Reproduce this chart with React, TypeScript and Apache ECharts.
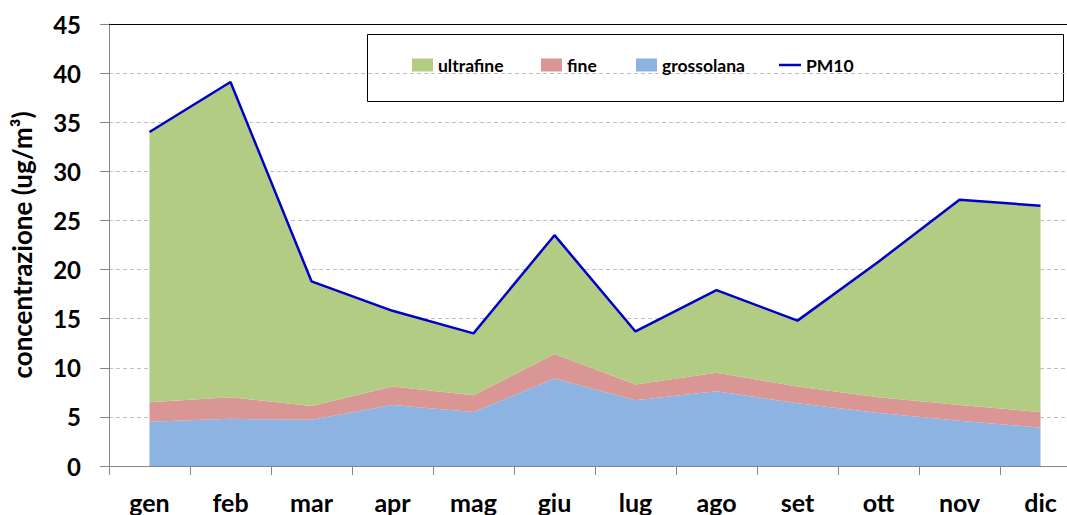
import React, { useEffect, useRef } from "react";
import * as echarts from "echarts";

const months = ["gen", "feb", "mar", "apr", "mag", "giu", "lug", "ago", "set", "ott", "nov", "dic"];
const pm10 = [34.0, 39.1, 18.8, 15.8, 13.5, 23.5, 13.7, 17.9, 14.8, 20.8, 27.1, 26.5];
const grossolana = [4.5, 4.8, 4.7, 6.2, 5.5, 8.9, 6.7, 7.6, 6.4, 5.4, 4.6, 3.9];
const fine = [2.0, 2.2, 1.4, 1.9, 1.7, 2.5, 1.6, 1.9, 1.7, 1.6, 1.6, 1.6];
const ultrafine = [27.5, 32.1, 12.7, 7.7, 6.3, 12.1, 5.4, 8.4, 6.7, 13.8, 20.9, 21.0];
const yTicks = { min: 0, max: 45, interval: 5 };

const FONT = "Lato";

export default function App() {
  const ref = useRef<HTMLDivElement>(null);
  useEffect(() => {
    const chart = echarts.init(ref.current!, null, { renderer: "svg" });
    const legendText = { fontFamily: FONT, fontWeight: "bold", fontSize: 17.5, color: "#000" };
    const mkLegend = (name: string, left: number, icon: string) => ({
      data: [{ name, icon }],
      left,
      top: 56,
      padding: 0,
      itemWidth: 21,
      itemHeight: 13,
      textStyle: legendText,
      selectedMode: false,
    });
    chart.setOption({
      animation: false,
      backgroundColor: "#fff",
      legend: [
        mkLegend("ultrafine", 412, "rect"),
        mkLegend("fine", 541, "rect"),
        mkLegend("grossolana", 636, "rect"),
        { ...mkLegend("PM10", 779, "path://M0,0 L22,0 L22,2.5 L0,2.5 Z"), itemWidth: 22 },
      ],
      graphic: [
        {
          type: "rect",
          left: 367,
          top: 34,
          shape: { width: 696, height: 67 },
          style: { fill: "#fff", stroke: "#000", lineWidth: 1 },
          z: -1,
          silent: true,
        },
      ],
      grid: { left: 109, top: 24, right: 19, bottom: 49 },
      xAxis: [
        {
          type: "category",
          data: months,
          boundaryGap: true,
          axisLine: { lineStyle: { color: "#868686", width: 1 } },
          axisTick: { show: true, length: 9, lineStyle: { color: "#868686" } },
          axisLabel: { fontFamily: FONT, fontWeight: "bold", fontSize: 25, color: "#000", margin: 23 },
          splitLine: { show: false },
        },
        {
          type: "category",
          data: months,
          position: "top",
          axisLine: { lineStyle: { color: "#000", width: 1 } },
          axisTick: { show: false },
          axisLabel: { show: false },
        },
      ],
      yAxis: {
        type: "value",
        min: yTicks.min,
        max: yTicks.max,
        interval: yTicks.interval,
        name: "concentrazione (ug/m³)",
        nameLocation: "middle",
        nameGap: 74,
        nameTextStyle: { fontFamily: FONT, fontWeight: "bold", fontSize: 26, color: "#000" },
        axisLine: { show: true, lineStyle: { color: "#868686", width: 1 } },
        axisTick: { show: true, length: 9, lineStyle: { color: "#868686" } },
        axisLabel: { fontFamily: FONT, fontWeight: "bold", fontSize: 24, color: "#000", margin: 28 },
        splitLine: { show: true, lineStyle: { color: "#c0c0c0", type: [4, 3], width: 1 } },
      },
      series: [
        {
          name: "grossolana",
          type: "line",
          stack: "tot",
          data: grossolana,
          symbol: "none",
          color: "#8db3e2",
          lineStyle: { width: 0 },
          areaStyle: { color: "#8db3e2", opacity: 1 },
        },
        {
          name: "fine",
          type: "line",
          stack: "tot",
          data: fine,
          symbol: "none",
          color: "#d99694",
          lineStyle: { width: 0 },
          areaStyle: { color: "#d99694", opacity: 1 },
        },
        {
          name: "ultrafine",
          type: "line",
          stack: "tot",
          data: ultrafine,
          symbol: "none",
          color: "#b3cc84",
          lineStyle: { width: 0 },
          areaStyle: { color: "#b3cc84", opacity: 1 },
        },
        {
          name: "PM10",
          type: "line",
          data: pm10,
          symbol: "none",
          color: "#0000cc",
          lineStyle: { width: 2.5, color: "#0000cc" },
          z: 5,
        },
      ],
    });
    return () => chart.dispose();
  }, []);
  return (
    <div style={{ position: "fixed", left: 0, top: 0, width: 1067, height: 515, overflow: "hidden", background: "#fff" }}>
      <div ref={ref} style={{ width: 1100, height: 515 }} />
    </div>
  );
}
